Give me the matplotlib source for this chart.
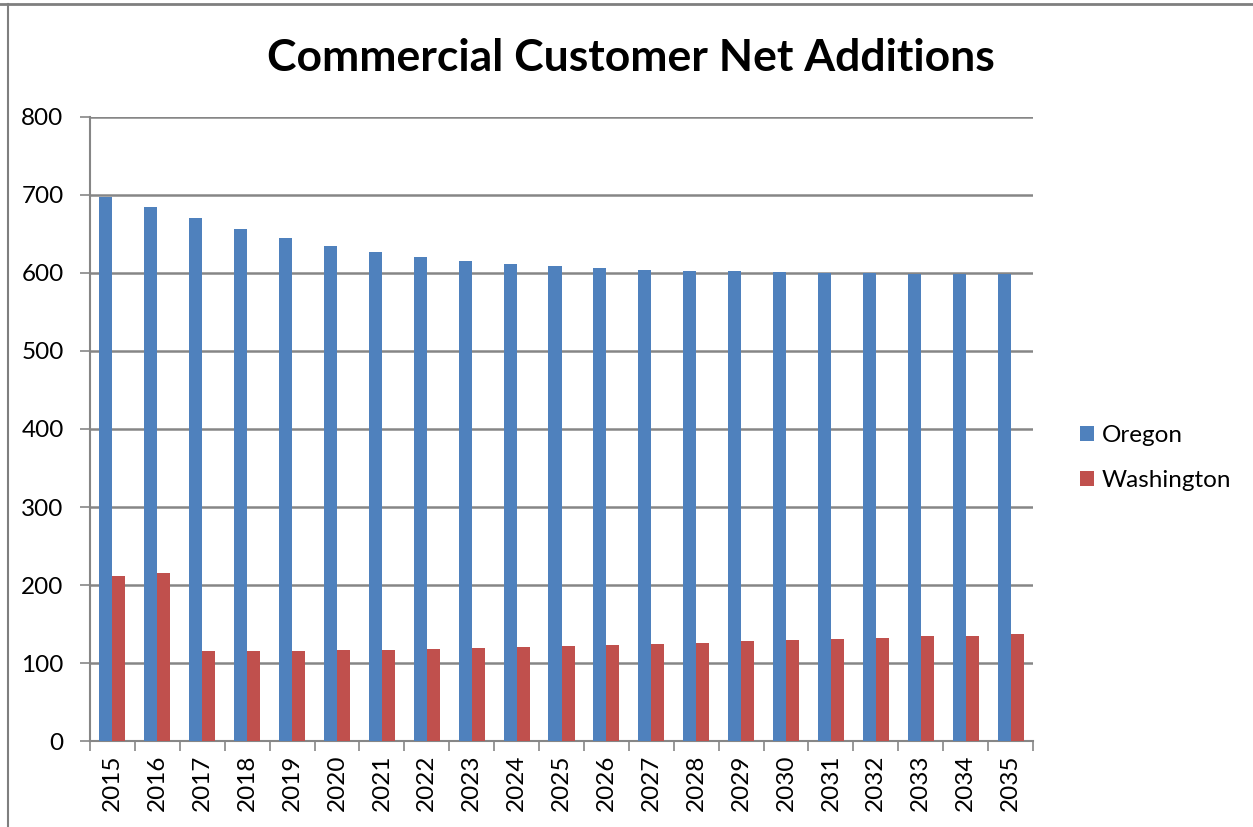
import matplotlib
matplotlib.use("Agg")
import matplotlib.pyplot as plt
import numpy as np
from matplotlib.lines import Line2D

years = [str(y) for y in range(2015, 2036)]
oregon = [697, 684, 670, 657, 645, 635, 627, 621, 616, 612, 609,
          606, 604, 603, 602, 601, 600, 600, 599, 599, 599]
washington = [212, 215, 115, 115, 115, 117, 117, 118, 119, 120, 122,
              123, 125, 126, 128, 129, 131, 132, 134, 135, 137]
y_ticks = [0, 100, 200, 300, 400, 500, 600, 700, 800]

plt.rcParams['font.family'] = ['Lato', 'DejaVu Sans']

fig = plt.figure(figsize=(12.53, 8.27), dpi=100)
ax = fig.add_axes([90 / 1253, 1 - 741 / 827, 943 / 1253, 624 / 827])

blue = '#4F81BD'
red = '#C0504D'
grid_c = '#868686'

x = np.arange(len(years))
w = 0.29
ax.bar(x - w / 2, oregon, w, color=blue, label='Oregon', zorder=3)
ax.bar(x + w / 2, washington, w, color=red, label='Washington', zorder=3)

ax.set_xlim(-0.5, len(years) - 0.5)
ax.set_ylim(0, 800)
ax.set_yticks(y_ticks)
ax.set_yticklabels([str(v) for v in y_ticks], fontsize=17.5)
ax.yaxis.grid(True, color=grid_c, linewidth=1.8, zorder=0)

ax.set_xticks(x)
ax.set_xticklabels(years, rotation=90, fontsize=17.5)
ax.tick_params(axis='x', length=0, pad=10)
ax.set_xticks(np.arange(-0.5, len(years)), minor=True)
ax.tick_params(axis='x', which='minor', length=7, color=grid_c, width=1.2)
ax.tick_params(axis='y', length=7, color=grid_c, width=1.2, pad=12)

for s in ['top', 'right']:
    ax.spines[s].set_visible(False)
for s in ['left', 'bottom']:
    ax.spines[s].set_color(grid_c)
    ax.spines[s].set_linewidth(1.5)

fig.text(631 / 1253, 1 - 58 / 827, 'Commercial Customer Net Additions',
         ha='center', va='center', fontsize=32, fontweight='bold')

fig.legend(loc='center left', bbox_to_anchor=(1070 / 1253, 1 - 458 / 827),
           frameon=False, fontsize=17.5, handlelength=0.6, handleheight=0.6,
           labelspacing=1.0, handletextpad=0.3, borderaxespad=0)

# chart frame edges
fig.add_artist(Line2D([0, 1], [1 - 4 / 827, 1 - 4 / 827], color='#7f7f7f',
                      linewidth=2, transform=fig.transFigure))
fig.add_artist(Line2D([8 / 1253, 8 / 1253], [0, 1 - 4 / 827], color='#7f7f7f',
                      linewidth=1.5, transform=fig.transFigure))

fig.savefig('out.png', dpi=100)
